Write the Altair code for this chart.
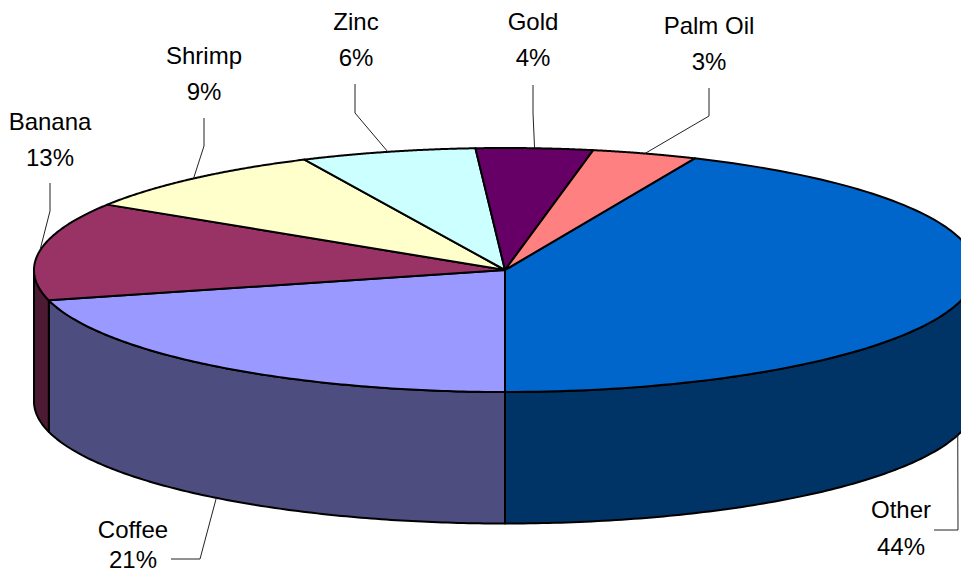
import numpy as np
import pandas as pd
import altair as alt

# Data
categories = ["Other", "Coffee", "Banana", "Shrimp", "Zinc", "Gold", "Palm Oil"]
label_pct = ["44%", "21%", "13%", "9%", "6%", "4%", "3%"]
slice_values = [43.4, 21.0, 13.0, 9.0, 6.0, 4.0, 3.6]
top_colors = ["#0066CC", "#9999FF", "#993366", "#FFFFCC", "#CCFFFF", "#660066", "#FF8080"]
side_colors = ["#003366", "#4D4D80", "#4D1A33", None, None, None, None]

# Layout of the tilted pie (pixels of the reference picture)
CX, CY, RX, RY, DEPTH = 505.0, 270.0, 471.0, 122.0, 131.5
END_OF_FIRST_SLICE = 180.0  # first slice ends straight down
FONT = "Liberation Sans"
FONT_SIZE = 24

# Label layout: centre x, name y, percent y, leader elbow (x, y), leader end (x, y)
label_x = [901, 133, 50, 204, 356, 533, 709]
name_y = [511, 531, 123, 57, 23, 23, 27]
pct_y = [548, 561, 159, 93, 59, 59, 63]
elbow_x = [958, 200, 50, 204, 355, 533, 709]
elbow_y = [530, 559, 211, 146, 113, 113, 116]
end_x = [934, 171, 50, 204, 355, 533, 709]
end_y = [530, 559, 183, 118, 84, 85, 88]
leader_t = [106.0, None, None, None, None, None, None]  # rim angle where a leader starts, if not mid-slice

PLOT_W, PLOT_H = 953, 565
x_scale = alt.Scale(domain=[8, 8 + PLOT_W], range=[0, PLOT_W], nice=False, zero=False)
y_scale = alt.Scale(domain=[8, 8 + PLOT_H], range=[0, PLOT_H], nice=False, zero=False)


def rim(t_deg, drop=0.0):
    t = np.radians(t_deg)
    return CX + RX * np.sin(t), CY - RY * np.cos(t) + drop


def polygon(xs, ys, color):
    df = pd.DataFrame({"x": xs, "y": ys, "i": range(len(xs))})
    return (
        alt.Chart(df)
        .mark_line(fill=color, stroke="black", strokeWidth=2, clip=True, strokeJoin="round")
        .encode(
            x=alt.X("x:Q", scale=x_scale, axis=None),
            y=alt.Y("y:Q", scale=y_scale, axis=None),
            order="i:Q",
        )
    )


# Slice angles follow from the values, clockwise from the end of the first slice
spans = [v / sum(slice_values) * 360 for v in slice_values]
starts = [END_OF_FIRST_SLICE - spans[0]]
ends = [END_OF_FIRST_SLICE]
for sp in spans[1:]:
    starts.append(ends[-1])
    ends.append(ends[-1] + sp)

layers = []

# Side walls: only the part of each slice on the front half (90..270 degrees)
for a0, a1, col in zip(starts, ends, side_colors):
    if col is None:
        continue
    lo, hi = max(a0, 90.0), min(a1, 270.0)
    ts = np.linspace(lo, hi, 120)
    tx, ty = rim(ts)
    bx, by = rim(ts[::-1], DEPTH)
    xs = list(tx) + list(bx) + [tx[0]]
    ys = list(ty) + list(by) + [ty[0]]
    layers.append(polygon(xs, ys, col))

# Top faces
for a0, a1, col in zip(starts, ends, top_colors):
    ts = np.linspace(a0, a1, 120)
    tx, ty = rim(ts)
    xs = [CX] + list(tx) + [CX]
    ys = [CY] + list(ty) + [CY]
    layers.append(polygon(xs, ys, col))

# Leader lines and labels
for k, name in enumerate(categories):
    t0 = leader_t[k] if leader_t[k] is not None else (starts[k] + ends[k]) / 2
    ax, ay = rim(t0, DEPTH if 90 < t0 < 270 else 0.0)
    df = pd.DataFrame(
        {
            "x": [float(ax), elbow_x[k], end_x[k]],
            "y": [float(ay), elbow_y[k], end_y[k]],
            "i": [0, 1, 2],
        }
    )
    layers.append(
        alt.Chart(df)
        .mark_line(color="#222222", strokeWidth=1, clip=True)
        .encode(
            x=alt.X("x:Q", scale=x_scale, axis=None),
            y=alt.Y("y:Q", scale=y_scale, axis=None),
            order="i:Q",
        )
    )
    lab = pd.DataFrame(
        {
            "x": [label_x[k], label_x[k]],
            "y": [name_y[k], pct_y[k]],
            "t": [name, label_pct[k]],
        }
    )
    layers.append(
        alt.Chart(lab)
        .mark_text(font=FONT, fontSize=FONT_SIZE, color="black", align="center", baseline="middle")
        .encode(
            x=alt.X("x:Q", scale=x_scale, axis=None),
            y=alt.Y("y:Q", scale=y_scale, axis=None),
            text="t:N",
        )
    )

chart = (
    alt.layer(*layers)
    .properties(width=PLOT_W, height=PLOT_H, padding=0, autosize=alt.AutoSizeParams(type="none"))
    .configure_view(strokeWidth=0)
    .resolve_scale(x="shared", y="shared")
)

chart.save("out.html", embed_options={"renderer": "svg", "actions": False})
